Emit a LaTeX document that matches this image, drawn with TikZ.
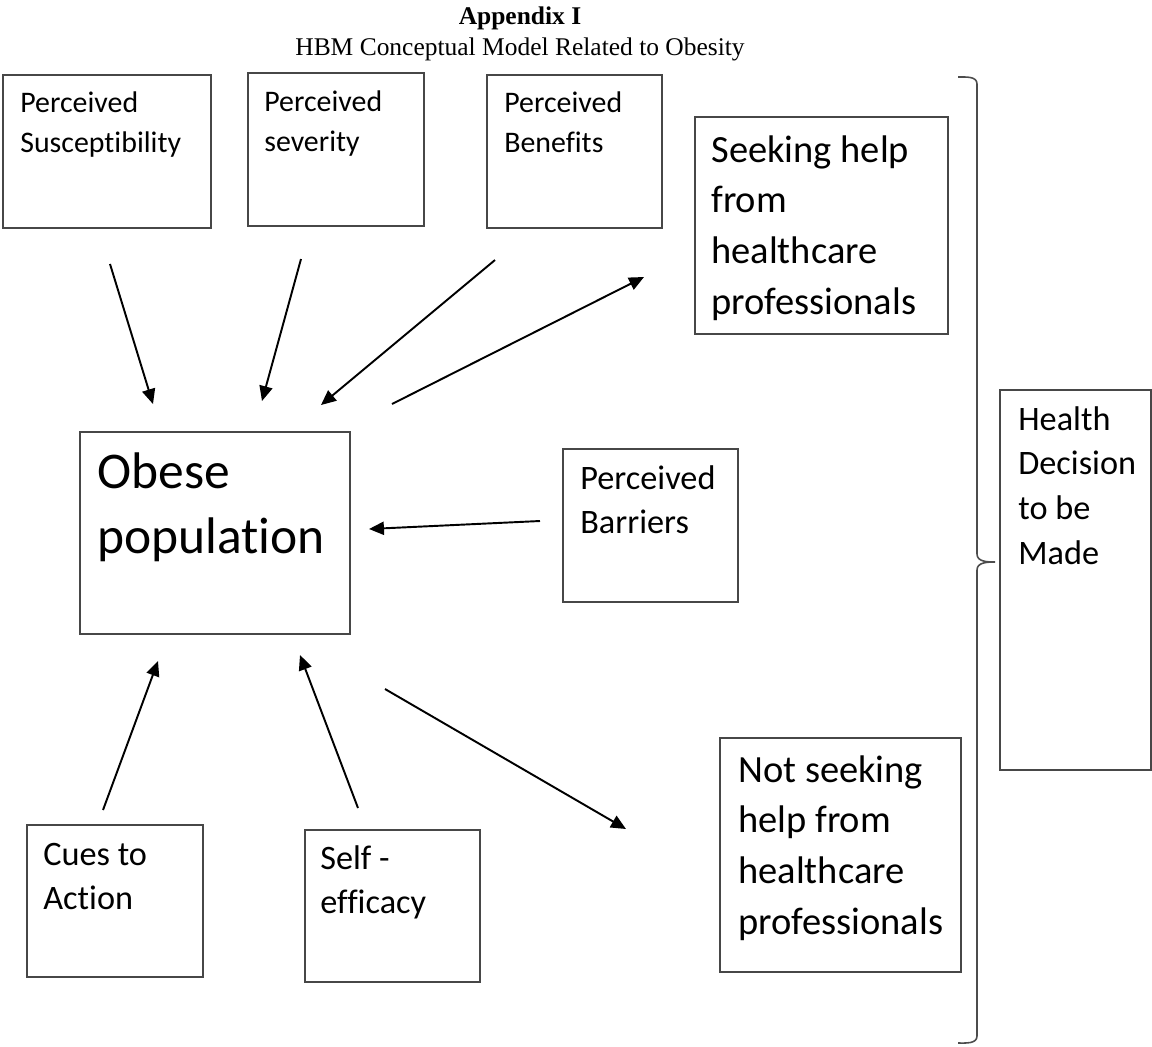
\documentclass[tikz,border=0pt]{standalone}
\usepackage{fontspec}
\setmainfont{Liberation Serif}
\newfontfamily\boxfont[Ligatures=CommonOff]{Carlito}
\usetikzlibrary{fit,arrows.meta}
\begin{document}
\begin{tikzpicture}[x=0.02cm,y=-0.02cm,
  box/.style={draw=black!72,line width=0.8pt,inner sep=0pt,outer sep=0pt},
  txt/.style={inner sep=0pt,anchor=base west,text=black},
  small/.style={txt,font=\boxfont\fontsize{17pt}{22.8pt}\selectfont},
  mid/.style={txt,font=\boxfont\fontsize{19.5pt}{25.5pt}\selectfont},
  large/.style={txt,font=\boxfont\fontsize{21.9pt}{29pt}\selectfont},
  huge/.style={txt,font=\boxfont\fontsize{29.3pt}{37.5pt}\selectfont},
  arr/.style={line width=1.1pt,-{Triangle[length=8.5pt,width=7.5pt]}},
  brace/.style={draw=black!70,line width=0.9pt}]
\useasboundingbox (0,0) rectangle (1152,1046);

% title
\node[inner sep=0pt,anchor=base,font=\bfseries\fontsize{14.5pt}{17pt}\selectfont] (ttl) at (520,24) {Appendix I};
\node[inner sep=0pt,anchor=base,font=\fontsize{14.5pt}{17pt}\selectfont] (sub) at (520,55) {HBM Conceptual Model Related to Obesity};

% boxes
\node[box,fit={(3,75) (211,228)}] (sus) {};
\node[box,fit={(248,73) (424,226)}] (sev) {};
\node[box,fit={(487,75) (662,228)}] (ben) {};
\node[box,fit={(695,117) (948,334)}] (seek) {};
\node[box,fit={(80,432) (350,634)}] (obese) {};
\node[box,fit={(563,449) (738,602)}] (bar) {};
\node[box,fit={(1000,390) (1151,770)}] (dec) {};
\node[box,fit={(720,738) (961,972)}] (noseek) {};
\node[box,fit={(27,825) (203,977)}] (cue) {};
\node[box,fit={(305,830) (480,982)}] (eff) {};

% box texts
\node[small] (tsus) at (20,112) {\parbox[t]{5cm}{Perceived\\Susceptibility}};
\node[small] (tsev) at (264,111) {\parbox[t]{5cm}{Perceived\\severity}};
\node[small] (tben) at (504,112) {\parbox[t]{5cm}{Perceived\\Benefits}};
\node[large] (tseek) at (711,162) {\parbox[t]{6cm}{Seeking help\\from\\healthcare\\professionals}};
\node[huge] (tobese) at (97,488) {\parbox[t]{6cm}{Obese\\population}};
\node[mid] (tbar) at (580,489) {\parbox[t]{5cm}{Perceived\\Barriers}};
\node[mid] (tdec) at (1018,430) {\parbox[t]{5cm}{Health\\Decision\\to be\\Made}};
\node[large] (tnoseek) at (738,782) {\parbox[t]{6cm}{Not seeking\\help from\\healthcare\\professionals}};
\node[mid] (tcue) at (43,865) {\parbox[t]{5cm}{Cues to\\Action}};
\node[mid] (teff) at (320,869) {\parbox[t]{5cm}{Self -\\efficacy}};

% arrow end points
\coordinate (susA) at (110,264);  \coordinate (obA) at (153,404);
\coordinate (sevA) at (301,259);  \coordinate (obB) at (262,401);
\coordinate (benA) at (495,260);  \coordinate (obC) at (321,405);
\coordinate (obD) at (392,404);   \coordinate (seekA) at (644,277);
\coordinate (barA) at (540,521);  \coordinate (obE) at (369,529);
\coordinate (cueA) at (103,810);  \coordinate (obF) at (158,661);
\coordinate (effA) at (358,808);  \coordinate (obG) at (300,655);
\coordinate (obH) at (385,689);   \coordinate (noseekA) at (626,829);

\draw[arr] (susA) -- (obA);
\draw[arr] (sevA) -- (obB);
\draw[arr] (benA) -- (obC);
\draw[arr] (obD) -- (seekA);
\draw[arr] (barA) -- (obE);
\draw[arr] (cueA) -- (obF);
\draw[arr] (effA) -- (obG);
\draw[arr] (obH) -- (noseekA);

% brace grouping the outcomes
\coordinate (brTop) at (958,77);
\coordinate (brTip) at (995,562);
\coordinate (brBot) at (958,1043);
\draw[brace] (brTop) to[out=0,in=90] (977,84) -- (977,554)
  to[out=-90,in=180] (brTip) to[out=180,in=90] (977,570)
  -- (977,1036) to[out=-90,in=0] (brBot);
\end{tikzpicture}
\end{document}
